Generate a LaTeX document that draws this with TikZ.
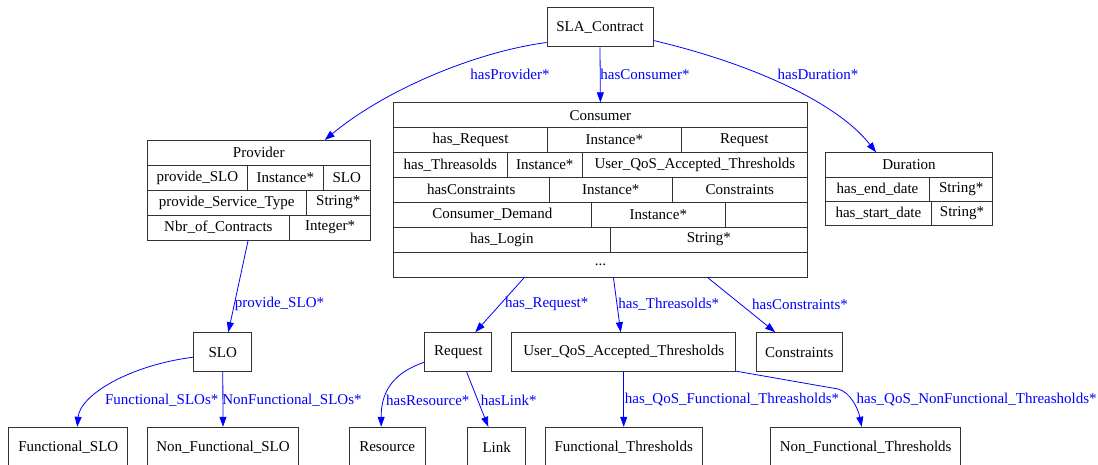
\documentclass[tikz,border=0pt]{standalone}
\usepackage{fontspec}
\setmainfont{Liberation Serif}
\usetikzlibrary{arrows.meta}

\begin{document}
\begin{tikzpicture}[x=1pt,y=-1pt,
    every node/.style={font=\fontsize{15}{18}\selectfont},
    box/.style={draw=black!80,line width=1pt,inner sep=0pt,minimum height=39pt},
    cell/.style={draw=black!80,line width=0.8pt,inner sep=0pt,anchor=north west,minimum height=24.9pt},
    durcell/.style={cell,minimum height=24.3pt},
    rel/.style={draw=blue,line width=0.8pt,-{Triangle[length=10pt,width=7pt]}},
    lbl/.style={text=blue,inner sep=0pt}]

    \useasboundingbox (0,0) rectangle (1098,465);

    %draw classes:
    \node[box,minimum width=106pt] (sla) at (600,27.5) {SLA\_Contract};
    \node[box,minimum width=57.7pt] (slo) at (222.8,352.2) {SLO};
    \node[box,minimum width=66.7pt] (req) at (458.3,352.2) {Request};
    \node[box,minimum width=224pt] (uqat) at (623.7,352.2) {User\_QoS\_Accepted\_Thresholds};
    \node[box,minimum width=86.3pt] (cstr) at (799.2,352.2) {Constraints};
    \node[box,minimum width=118.7pt] (fslo) at (68.3,446.8) {Functional\_SLO};
    \node[box,minimum width=150.6pt] (nfslo) at (223,446.8) {Non\_Functional\_SLO};
    \node[box,minimum width=75.7pt] (res) at (387.2,446.8) {Resource};
    \node[box,minimum width=58pt] (link) at (496.7,446.8) {Link};
    \node[box,minimum width=157.3pt] (fthr) at (623.7,446.8) {Functional\_Thresholds};
    \node[box,minimum width=190pt] (nfthr) at (865.7,446.8) {Non\_Functional\_Thresholds};

    %draw provider table:
    \node[cell,minimum width=223.3pt] (prov) at (146.7,140) {Provider};
    \node[cell,minimum width=100.6pt] (provslo) at (146.7,164.9) {provide\_SLO};
    \node[cell,minimum width=75.4pt] (provsloi) at (247.3,164.9) {Instance*};
    \node[cell,minimum width=47.3pt] (provslot) at (322.7,164.9) {SLO};
    \node[cell,minimum width=159pt] (provtype) at (146.7,189.8) {provide\_Service\_Type};
    \node[cell,minimum width=64.3pt] (provtypes) at (305.7,189.8) {String*};
    \node[cell,minimum width=142.6pt] (provnbr) at (146.7,214.7) {Nbr\_of\_Contracts};
    \node[cell,minimum width=80.7pt] (provnbri) at (289.3,214.7) {Integer*};

    %draw consumer table:
    \node[cell,minimum width=414pt] (cons) at (393,102.3) {Consumer};
    \node[cell,minimum width=154.3pt] (consreq) at (393,127.2) {has\_Request};
    \node[cell,minimum width=133.4pt] (consreqi) at (547.3,127.2) {Instance*};
    \node[cell,minimum width=126.3pt] (consreqt) at (680.7,127.2) {Request};
    \node[cell,minimum width=113.7pt] (consthr) at (393,152.1) {has\_Threasolds};
    \node[cell,minimum width=75.3pt] (consthri) at (506.7,152.1) {Instance*};
    \node[cell,minimum width=225pt] (consthrt) at (582,152.1) {User\_QoS\_Accepted\_Thresholds};
    \node[cell,minimum width=155.7pt] (conscstr) at (393,177) {hasConstraints};
    \node[cell,minimum width=123.3pt] (conscstri) at (548.7,177) {Instance*};
    \node[cell,minimum width=135pt] (conscstrt) at (672,177) {Constraints};
    \node[cell,minimum width=197.7pt] (consdem) at (393,201.9) {Consumer\_Demand};
    \node[cell,minimum width=134.3pt] (consdemi) at (590.7,201.9) {Instance*};
    \node[cell,minimum width=82pt] (consdemt) at (725,201.9) {};
    \node[cell,minimum width=217pt] (conslog) at (393,226.8) {has\_Login};
    \node[cell,minimum width=197pt] (conslogs) at (610,226.8) {String*};
    \node[cell,minimum width=414pt] (consend) at (393,251.7) {...};

    %draw duration table:
    \node[durcell,minimum width=167.3pt] (dur) at (825,152.3) {Duration};
    \node[durcell,minimum width=104.3pt] (durend) at (825,176.6) {has\_end\_date};
    \node[durcell,minimum width=63pt] (durends) at (929.3,176.6) {String*};
    \node[durcell,minimum width=106pt] (durstart) at (825,200.9) {has\_start\_date};
    \node[durcell,minimum width=61.3pt] (durstarts) at (931,200.9) {String*};

    %draw relations:
    \draw[rel] ([yshift=5pt]sla.south west) .. controls (475,52) and (385,90) .. ([xshift=66pt]prov.north);
    \draw[rel] (sla.south) -- (cons.north);
    \draw[rel] ([yshift=7pt]sla.south east) .. controls (745,62) and (835,100) .. ([xshift=-33pt]dur.north);
    \draw[rel] ([xshift=29.7pt]provnbr.south) -- ([xshift=5.5pt]slo.north);
    \draw[rel] ([xshift=-76pt]consend.south) -- ([xshift=17pt]req.north);
    \draw[rel] ([xshift=13pt]consend.south) -- ([xshift=-3pt]uqat.north);
    \draw[rel] ([xshift=107pt]consend.south) -- ([xshift=-24pt]cstr.north);
    \draw[rel] ([yshift=-5pt]slo.west) .. controls (130,365) and (80,395) .. ([xshift=9pt]fslo.north);
    \draw[rel] (slo.south) -- (nfslo.north);
    \draw[rel] ([yshift=-10pt]req.west) .. controls (395,372) and (381,390) .. ([xshift=-6pt]res.north);
    \draw[rel] ([xshift=8.4pt]req.south) -- ([xshift=-8.4pt]link.north);
    \draw[rel] (uqat.south) -- (fthr.north);
    \draw[rel] ([yshift=1pt]uqat.south east) -- (838,389) .. controls (850,392) and (858,408) .. ([xshift=-4pt]nfthr.north);

    %draw labels:
    \node[lbl] (lprov) at (510,74) {hasProvider*};
    \node[lbl] (lcons) at (645,74) {hasConsumer*};
    \node[lbl] (ldur) at (818,74) {hasDuration*};
    \node[lbl] (lpslo) at (279.5,304) {provide\_SLO*};
    \node[lbl] (lreq) at (546.7,304) {has\_Request*};
    \node[lbl] (lthr) at (668.8,304) {has\_Threasolds*};
    \node[lbl] (lcstr) at (800,304) {hasConstraints*};
    \node[lbl] (lfslo) at (161.7,400) {Functional\_SLOs*};
    \node[lbl] (lnfslo) at (292,400) {NonFunctional\_SLOs*};
    \node[lbl] (lres) at (427.8,400) {hasResource*};
    \node[lbl] (llink) at (508.7,400) {hasLink*};
    \node[lbl] (lfthr) at (732,400) {has\_QoS\_Functional\_Threasholds*};
    \node[lbl] (lnfthr) at (976.7,400) {has\_QoS\_NonFunctional\_Threasholds*};

\end{tikzpicture}
\end{document}
